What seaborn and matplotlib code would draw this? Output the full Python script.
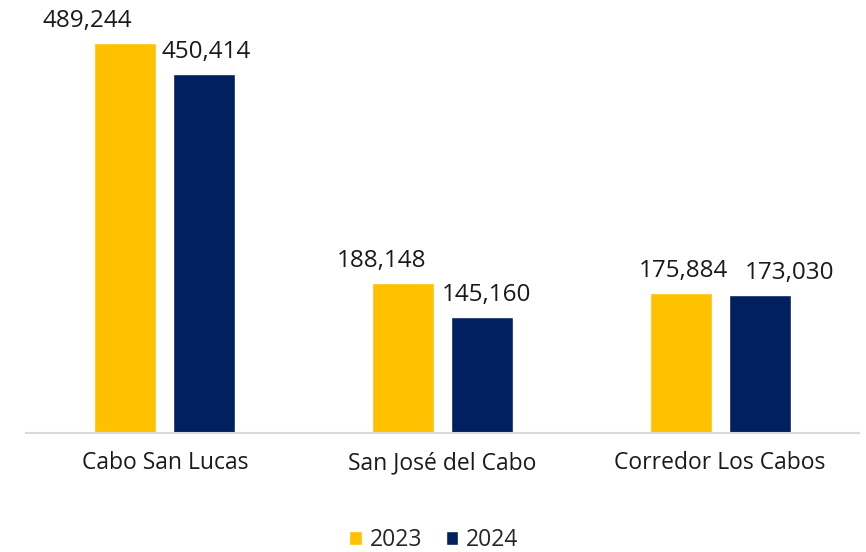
import matplotlib
matplotlib.use("Agg")
import matplotlib.pyplot as plt
import seaborn as sns
import pandas as pd

categories = ["Cabo San Lucas", "San José del Cabo", "Corredor Los Cabos"]
years = ["2023", "2024"]
values_2023 = [489244, 188148, 175884]
values_2024 = [450414, 145160, 173030]

colors = {"2023": "#FFC000", "2024": "#002060"}
# horizontal nudges (pixels) of the data labels, as placed in the original
label_dx = {"2023": [-38, -21, 3], "2024": [2, 4, 30]}

df = pd.DataFrame({
    "Zona": categories * 2,
    "Año": [years[0]] * 3 + [years[1]] * 3,
    "Valor": values_2023 + values_2024,
})

sns.set_theme(style="white")
plt.rcParams["font.family"] = ["Open Sans", "DejaVu Sans"]

FS = 16.5
FS_LAB = 17.5

fig = plt.figure(figsize=(8.66, 5.52), dpi=100)
ax = fig.add_axes([26 / 866, 1 - 433 / 552, 833 / 866, 433 / 552])

sns.barplot(data=df, x="Zona", y="Valor", hue="Año", hue_order=years,
            palette=colors, width=0.569, gap=0.215, saturation=1,
            ax=ax, legend=True)

ax.set_ylim(0, 543200)
ax.set_xlim(-0.5, 2.5)
ax.set_xlabel("")
ax.set_ylabel("")
ax.set_yticks([])
for s in ["top", "right", "left"]:
    ax.spines[s].set_visible(False)
ax.spines["bottom"].set_color("#D9D9D9")
ax.spines["bottom"].set_linewidth(1.5)
ax.tick_params(axis="x", length=0, pad=13, labelsize=FS, colors="#1a1a1a")

for cont, yr in zip(ax.containers, years):
    for i, patch in enumerate(cont.patches):
        xc = patch.get_x() + patch.get_width() / 2
        h = patch.get_height()
        ax.annotate(f"{h:,.0f}", xy=(xc, h), xytext=(label_dx[yr][i], 16),
                    textcoords="offset pixels", ha="center", va="baseline",
                    fontsize=FS_LAB, color="#1a1a1a", annotation_clip=False)

sns.move_legend(ax, "center", bbox_to_anchor=(434 / 866, 1 - 540 / 552),
                bbox_transform=fig.transFigure, ncol=2, frameon=False,
                title=None, fontsize=FS, handlelength=0.55, handleheight=0.55,
                handletextpad=0.35, columnspacing=1.0)

fig.savefig("out.png", dpi=100)
